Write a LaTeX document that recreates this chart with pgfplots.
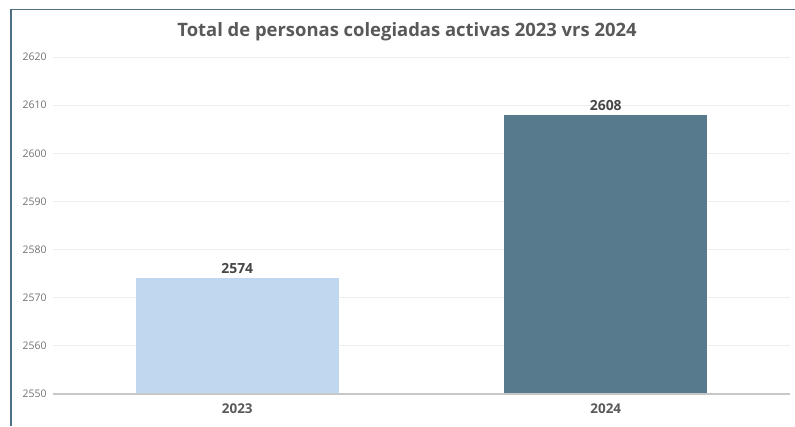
\documentclass[border=0pt]{standalone}
\usepackage{pgfplots}
\pgfplotsset{compat=1.18}
\usepackage{fontspec}
\setmainfont{Open Sans}
\definecolor{barA}{HTML}{BFD8F0}
\definecolor{barB}{HTML}{577B8D}
\definecolor{framec}{HTML}{4F6F86}
\definecolor{txt}{HTML}{595959}
\definecolor{gridc}{HTML}{EEEEEE}
\begin{document}
\begin{tikzpicture}[x=1bp,y=1bp]
\path[use as bounding box] (0,0) rectangle (795,426);
\fill[white] (0,0) rectangle (795,426);
\draw[framec, line width=1.6bp] (11,0) -- (11,416.5) -- (795,416.5);
\node[font=\bfseries\fontsize{18.5}{19}\selectfont, text=txt] at (407,394) {Total de personas colegiadas activas 2023 vrs 2024};
\begin{axis}[
  at={(53bp,32bp)}, anchor=south west,
  scale only axis, width=737bp, height=337bp,
  xmin=-0.5, xmax=1.5, ymin=2550, ymax=2620,
  ytick={2550,2560,...,2620},
  xtick={0,1}, xticklabels={2023,2024},
  axis line style={draw=none},
  tick style={draw=none},
  xmajorgrids=false, ymajorgrids=true,
  y grid style={draw=gridc, line width=0.8bp},
  yticklabel style={font=\fontsize{10.5}{11}\selectfont, text=txt!85, xshift=-3bp},
  xticklabel style={font=\bfseries\fontsize{13.5}{14}\selectfont, text=txt, yshift=-2bp},
  /pgf/number format/assume math mode=true,
  /pgf/number format/1000 sep={},
  ybar, bar width=203bp, bar shift=0pt,
  nodes near coords,
  nodes near coords style={font=\bfseries\fontsize{14}{14}\selectfont, text=black!72, yshift=1bp},
  clip=false,
]
\addplot[fill=barA, draw=none] coordinates {(0,2574)};
\addplot[fill=barB, draw=none] coordinates {(1,2608)};
\draw[black!22, line width=1.2bp] (axis cs:-0.5,2550) -- (axis cs:1.5,2550);
\end{axis}
\end{tikzpicture}
\end{document}
